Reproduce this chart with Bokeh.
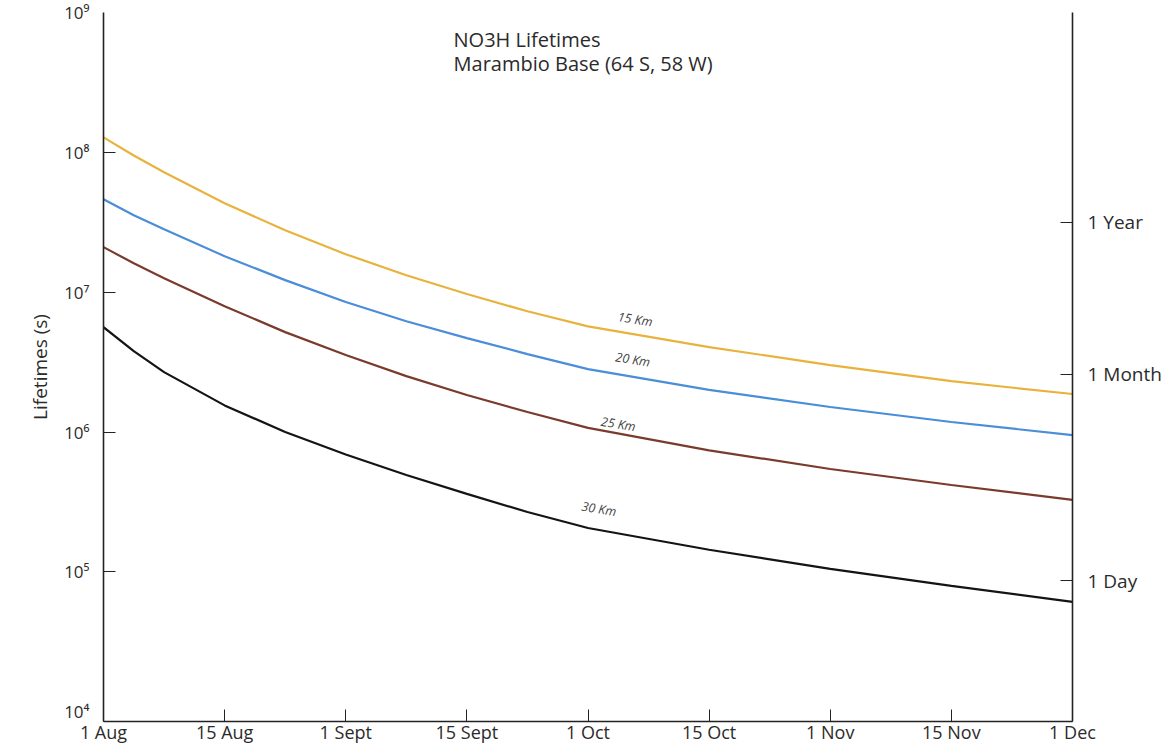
import math
from bokeh.plotting import figure
from bokeh.models import (LogAxis, FixedTicker, CustomJSTickFormatter, Range1d,
                          Label, ColumnDataSource)
from bokeh.core.properties import value
from bokeh.embed import file_html
from bokeh.resources import INLINE

# ---------------- data ----------------
date_labels = ["1 Aug", "15 Aug", "1 Sept", "15 Sept", "1 Oct",
               "15 Oct", "1 Nov", "15 Nov", "1 Dec"]
date_ticks = [0, 1, 2, 3, 4, 5, 6, 7, 8]          # half-month steps

x_pos = [0, 0.25, 0.5, 1, 1.5, 2, 2.5, 3, 3.5, 4, 5, 6, 7, 8]
km15 = [1.28e8, 9.5e7, 7.2e7, 4.32e7, 2.77e7, 1.87e7, 1.32e7, 9.7e6, 7.3e6, 5.7e6, 4.05e6, 3.01e6, 2.31e6, 1.87e6]
km20 = [4.62e7, 3.55e7, 2.82e7, 1.81e7, 1.22e7, 8.5e6, 6.2e6, 4.69e6, 3.61e6, 2.82e6, 2.0e6, 1.51e6, 1.18e6, 9.5e5]
km25 = [2.10e7, 1.61e7, 1.26e7, 7.94e6, 5.18e6, 3.55e6, 2.51e6, 1.84e6, 1.39e6, 1.07e6, 7.4e5, 5.44e5, 4.18e5, 3.27e5]
km30 = [5.62e6, 3.79e6, 2.68e6, 1.55e6, 1.0e6, 6.9e5, 4.93e5, 3.61e5, 2.68e5, 2.06e5, 1.44e5, 1.05e5, 7.94e4, 6.1e4]

series_names = ["15 Km", "20 Km", "25 Km", "30 Km"]
series_colors = ["#E8B33C", "#4A8DD8", "#7A3A2C", "#141414"]

decade_ticks = [1e5, 1e6, 1e7, 1e8]
label_decades = [1e4, 1e5, 1e6, 1e7, 1e8, 1e9]
right_ticks = [86400, 2.592e6, 3.1536e7]
right_labels = ["1 Day", "1 Month", "1 Year"]

curve_label_x = [4.39, 4.37, 4.25, 4.09]
curve_label_y = [6.4e6, 3.3e6, 1.14e6, 2.82e5]

title_lines = ["NO3H Lifetimes", "Marambio Base (64 S, 58 W)"]
title_y = [6.4e8, 4.3e8]

FONT = "Open Sans"
TXT = "#2b2b2b"
AX = "#222222"

# ---------------- figure ----------------
p = figure(width=1173, height=746, y_axis_type="log", y_axis_location=None,
           x_range=Range1d(0, 8), y_range=Range1d(10 ** 3.93, 1e9),
           output_backend="svg", toolbar_location=None,
           min_border_left=103, min_border_right=101,
           min_border_top=12, min_border_bottom=0)
p.outline_line_color = None
p.xgrid.visible = False
p.ygrid.visible = False
p.background_fill_color = "white"
p.border_fill_color = "white"

for ys, c in zip([km15, km20, km25, km30], series_colors):
    p.line(x_pos, ys, line_color=c, line_width=2.2)

src = ColumnDataSource(dict(x=curve_label_x, y=curve_label_y, t=series_names))
p.text(x="x", y="y", text="t", source=src, angle=-0.16,
       text_font=value(FONT), text_font_style="italic", text_font_size="12.5px",
       text_color="#444444", text_align="center", text_baseline="middle")

# x axis
xa = p.xaxis[0]
xa.ticker = FixedTicker(ticks=date_ticks)
xa.major_label_overrides = {t: l for t, l in zip(date_ticks, date_labels)}
xa.major_tick_in = 12
xa.major_tick_out = 0
xa.minor_tick_line_color = None
xa.major_label_standoff = -2
xa.axis_label_standoff = 0
xa.major_label_text_font = FONT
xa.major_label_text_font_size = "18px"
xa.major_label_text_color = TXT
xa.axis_line_color = AX
xa.axis_line_width = 1.6
xa.major_tick_line_color = AX

# left y axis: inner one carries line + inward ticks, outer one the labels
ya_ticks = LogAxis(ticker=FixedTicker(ticks=decade_ticks),
                   formatter=CustomJSTickFormatter(code="return '';"))
ya_ticks.major_tick_in = 12
ya_ticks.major_tick_out = 0
ya_ticks.minor_tick_line_color = None
ya_ticks.major_label_standoff = 0
ya_ticks.axis_label_standoff = 0
ya_ticks.axis_line_color = AX
ya_ticks.axis_line_width = 1.6
ya_ticks.major_tick_line_color = AX
p.add_layout(ya_ticks, "left")

sup_code = """
const s = {4:'\u2074',5:'\u2075',6:'\u2076',7:'\u2077',8:'\u2078',9:'\u2079'};
return '10' + s[Math.round(Math.log10(tick))];
"""
ya = LogAxis(ticker=FixedTicker(ticks=label_decades),
             formatter=CustomJSTickFormatter(code=sup_code))
ya.axis_line_color = None
ya.major_tick_line_color = None
ya.major_tick_in = 0
ya.major_tick_out = 0
ya.minor_tick_line_color = None
ya.major_label_standoff = 14
ya.major_label_text_font = FONT
ya.major_label_text_font_size = "17px"
ya.major_label_text_color = TXT
ya.axis_label = "Lifetimes (s)"
ya.axis_label_text_font = FONT
ya.axis_label_text_font_style = "normal"
ya.axis_label_text_font_size = "19px"
ya.axis_label_text_color = TXT
ya.axis_label_standoff = 8
p.add_layout(ya, "left")

# right axis
ra = LogAxis(ticker=FixedTicker(ticks=right_ticks),
             formatter=CustomJSTickFormatter(
                 args=dict(v=right_ticks, l=right_labels),
                 code="""let best=0, bd=1e99;
for (let i=0;i<v.length;i++){const d=Math.abs(Math.log(v[i])-Math.log(tick)); if(d<bd){bd=d;best=i;}}
return l[best];"""))
ra.major_tick_in = 12
ra.major_tick_out = 0
ra.minor_tick_line_color = None
ra.major_label_standoff = 15
ra.major_label_text_font = FONT
ra.major_label_text_font_size = "19px"
ra.major_label_text_color = TXT
ra.axis_line_color = AX
ra.axis_line_width = 1.6
ra.major_tick_line_color = AX
p.add_layout(ra, "right")

# title block
for t, ty in zip(title_lines, title_y):
    p.add_layout(Label(x=2.89, y=ty, text=t,
                       text_align="left", text_baseline="middle",
                       text_font=FONT, text_font_size="20px", text_color=TXT))

open("out.html", "w").write(file_html(p, INLINE))
